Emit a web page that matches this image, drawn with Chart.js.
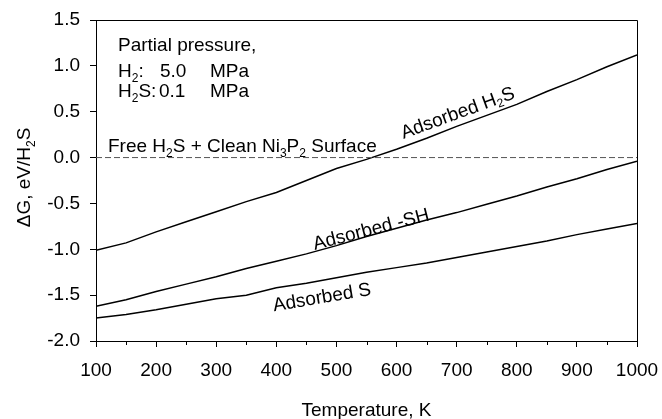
<!DOCTYPE html>
<html>
<head>
<meta charset="utf-8">
<script src="https://cdn.jsdelivr.net/npm/chart.js@4.4.0/dist/chart.umd.min.js"></script>
<style>
html,body{margin:0;padding:0;background:#fff;}
#wrap{width:662px;height:419px;}
</style>
</head>
<body>
<div id="wrap"><canvas id="c" width="662" height="419"></canvas></div>
<script>
// temperatura (K) e energia livre (eV/H2S)
const temps = [100,150,200,250,300,350,400,450,500,550,600,650,700,750,800,850,900,950,1000];
const gH2S  = [-1.01,-0.93,-0.81,-0.70,-0.59,-0.48,-0.38,-0.25,-0.12,-0.02,0.09,0.21,0.34,0.46,0.58,0.72,0.85,0.99,1.12];
const gSH   = [-1.62,-1.55,-1.46,-1.38,-1.30,-1.21,-1.13,-1.05,-0.96,-0.86,-0.77,-0.68,-0.60,-0.51,-0.42,-0.32,-0.23,-0.13,-0.04];
const gS    = [-1.75,-1.71,-1.66,-1.60,-1.54,-1.50,-1.42,-1.37,-1.31,-1.25,-1.20,-1.15,-1.09,-1.03,-0.97,-0.91,-0.84,-0.78,-0.72];
// linha de referencia (H2S livre + superficie limpa)
const refT = [100, 1000];
const refG = [0, 0];
const xTicks = [100,200,300,400,500,600,700,800,900,1000];
const xMinor = [150,250,350,450,550,650,750,850,950];
const yTicks = [-2.0,-1.5,-1.0,-0.5,0.0,0.5,1.0,1.5];

const FONT = '"Liberation Sans", Arial, sans-serif';
const FS = 19;

function pts(xs, ys){ return xs.map((x,i)=>({x:x, y:ys[i]})); }

// texto com subscritos: parts = [[texto, sub?], ...]
function drawRich(ctx, parts, x, y, size, align){
  const big = size+'px '+FONT, small = Math.round(size*0.64)+'px '+FONT;
  let w = 0;
  parts.forEach(p=>{ ctx.font = p[1]?small:big; w += ctx.measureText(p[0]).width; });
  let cx = align==='center' ? x - w/2 : x;
  parts.forEach(p=>{
    ctx.font = p[1]?small:big;
    ctx.fillText(p[0], cx, p[1] ? y + size*0.28 : y);
    cx += ctx.measureText(p[0]).width;
  });
}

const decor = {
  id:'decor',
  afterDraw(chart){
    const ctx = chart.ctx, a = chart.chartArea;
    const xs = chart.scales.x, ys = chart.scales.y;
    ctx.save();
    ctx.strokeStyle = '#000'; ctx.lineWidth = 1;
    ctx.beginPath();
    ctx.moveTo(Math.round(a.left)+0.5, Math.round(a.top)+0.5);
    ctx.lineTo(Math.round(a.right)+0.5, Math.round(a.top)+0.5);
    ctx.lineTo(Math.round(a.right)+0.5, Math.round(a.bottom)+0.5);
    ctx.stroke();
    // ticks menores no eixo x
    ctx.beginPath();
    xMinor.forEach(v=>{
      const px = Math.round(xs.getPixelForValue(v))+0.5;
      ctx.moveTo(px, a.bottom); ctx.lineTo(px, a.bottom+4);
    });
    ctx.stroke();

    ctx.fillStyle = '#000';
    ctx.textBaseline = 'alphabetic';
    const L = a.left;
    drawRich(ctx, [['Partial pressure,',0]], L+22, 51, FS, 'left');
    drawRich(ctx, [['H',0],['2',1],[':',0]], L+22, 77, FS, 'left');
    drawRich(ctx, [['5.0',0]], L+64, 77, FS, 'left');
    drawRich(ctx, [['MPa',0]], L+114, 77, FS, 'left');
    drawRich(ctx, [['H',0],['2',1],['S:',0]], L+22, 97, FS, 'left');
    drawRich(ctx, [['0.1',0]], L+63, 97, FS, 'left');
    drawRich(ctx, [['MPa',0]], L+114, 97, FS, 'left');
    drawRich(ctx, [['Free H',0],['2',1],['S + Clean Ni',0],['3',1],['P',0],['2',1],[' Surface',0]], L+12, 152, FS, 'left');

    // rotulos ao longo das curvas
    ctx.textBaseline = 'middle';
    const rot = (parts, t, g, deg)=>{
      ctx.save();
      ctx.translate(xs.getPixelForValue(t), ys.getPixelForValue(g));
      ctx.rotate(-deg*Math.PI/180);
      drawRich(ctx, parts, 0, 0, FS, 'center');
      ctx.restore();
    };
    rot([['Adsorbed H',0],['2',1],['S',0]], 702, 0.48, 20);
    rot([['Adsorbed -SH',0]], 558, -0.79, 14.5);
    rot([['Adsorbed S',0]], 476, -1.53, 9.5);

    // titulos dos eixos
    ctx.textBaseline = 'alphabetic';
    ctx.save();
    ctx.translate(30, (a.top+a.bottom)/2 - 3);
    ctx.rotate(-Math.PI/2);
    drawRich(ctx, [['\u0394G, eV/H',0],['2',1],['S',0]], 0, 0, FS, 'center');
    ctx.restore();
    drawRich(ctx, [['Temperature, K',0]], (a.left+a.right)/2, 416, FS, 'center');
    ctx.restore();
  }
};

const lineStyle = {borderColor:'#000', borderWidth:1.5, pointRadius:0, tension:0, fill:false};

new Chart(document.getElementById('c').getContext('2d'), {
  type:'line',
  data:{
    datasets:[
      Object.assign({label:'ref', data:pts(refT, refG)}, {borderColor:'#555', borderWidth:1, borderDash:[6,3], pointRadius:0, fill:false}),
      Object.assign({label:'Adsorbed H2S', data:pts(temps, gH2S)}, lineStyle),
      Object.assign({label:'Adsorbed -SH', data:pts(temps, gSH)}, lineStyle),
      Object.assign({label:'Adsorbed S', data:pts(temps, gS)}, lineStyle)
    ]
  },
  options:{
    responsive:false,
    animation:false,
    devicePixelRatio:1,
    layout:{padding:{top:20, right:25, left:0, bottom:0}},
    plugins:{legend:{display:false}, tooltip:{enabled:false}},
    scales:{
      x:{
        type:'linear', min:100, max:1000,
        afterBuildTicks:s=>{ s.ticks = xTicks.map(v=>({value:v})); },
        afterFit:s=>{ s.height = 78; s.paddingLeft = 0; s.paddingRight = 0; },
        grid:{drawOnChartArea:false, drawTicks:true, tickLength:6, color:'#000'},
        border:{display:true, color:'#000', width:1},
        ticks:{color:'#000', font:{family:FONT, size:FS}, padding:12, maxRotation:0, autoSkip:false, callback:v=>String(v)}
      },
      y:{
        min:-2, max:1.5,
        afterBuildTicks:s=>{ s.ticks = yTicks.map(v=>({value:v})); },
        afterFit:s=>{ s.width = 96; s.paddingTop = 0; s.paddingBottom = 0; },
        grid:{drawOnChartArea:false, drawTicks:true, tickLength:6, color:'#000'},
        border:{display:true, color:'#000', width:1},
        ticks:{color:'#000', font:{family:FONT, size:FS}, padding:10, callback:v=>v.toFixed(1)}
      }
    }
  },
  plugins:[decor]
});
</script>
</body>
</html>
